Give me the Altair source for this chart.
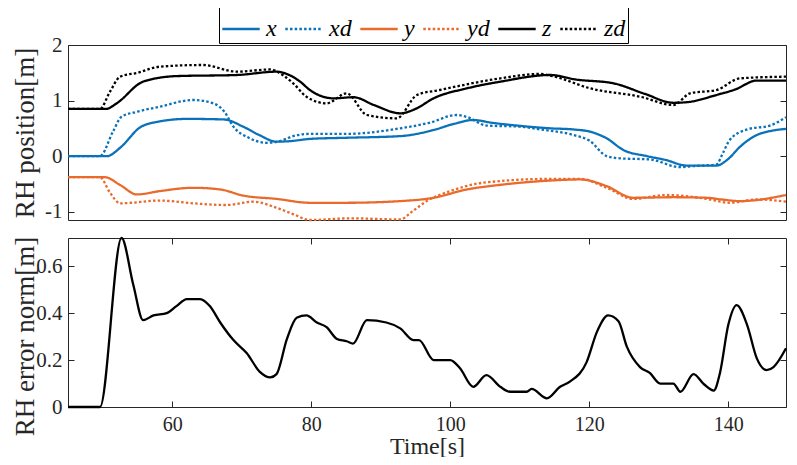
import altair as alt
import pandas as pd

# ---------------- data ----------------
series_names = ["x", "xd", "y", "yd", "z", "zd"]

x_t = [45, 50.6, 52.5, 55.4, 58, 62.1, 67.4, 70.2, 72.5, 75, 77, 79.8, 85, 92.8, 97.6,
       100.5, 103.3, 106, 109.6, 114.4, 117.7, 120.1, 122.5, 124.9, 128.3, 131, 134,
       138.3, 140, 141.7, 144.1, 146, 148.3]
x_v = [0, 0, 0.15, 0.52, 0.62, 0.67, 0.66, 0.53, 0.38, 0.26, 0.27, 0.31, 0.33, 0.36, 0.47,
       0.58, 0.65, 0.60, 0.55, 0.50, 0.48, 0.44, 0.32, 0.11, 0.0, -0.07, -0.17,
       -0.17, -0.05, 0.17, 0.38, 0.45, 0.49]

xd_t = [45, 49.6, 51.5, 52.7, 55, 58.2, 63, 65.9, 67.5, 68.8, 71, 73.6, 75.5, 77.4, 79.8,
        85, 92.8, 97, 100.9, 102.5, 105.2, 110, 113, 117.7, 120, 122.5, 124.4, 128.7,
        133.1, 135, 138.3, 139.2, 140.2, 142.7, 146, 148.3]
xd_v = [0, 0, 0.45, 0.71, 0.80, 0.89, 1.01, 0.95, 0.80, 0.53, 0.33, 0.24, 0.27, 0.36, 0.40,
        0.40, 0.50, 0.60, 0.74, 0.70, 0.55, 0.53, 0.48, 0.38, 0.28, 0.0, -0.04, -0.06,
        -0.20, -0.18, -0.15, 0.05, 0.29, 0.48, 0.55, 0.70]

y_t = [45, 50.3, 52.5, 54.9, 58.2, 63, 66.9, 70.2, 75, 79.8, 85, 92.8, 97.6, 102.4, 107,
       114.4, 118.7, 122.5, 126.3, 132.1, 136.9, 139, 141.7, 148.3]
y_v = [-0.38, -0.38, -0.52, -0.69, -0.63, -0.57, -0.60, -0.71, -0.77, -0.84, -0.84, -0.81,
       -0.75, -0.60, -0.52, -0.44, -0.42, -0.54, -0.75, -0.74, -0.75, -0.78, -0.81, -0.70]

yd_t = [45, 49.6, 51, 52.5, 58.2, 63, 67.8, 71.7, 75, 77.5, 79.8, 85.6, 92.8, 94.5, 96.6,
        100, 104.7, 114.4, 118.7, 122.5, 126.3, 131.1, 136.9, 140.2, 144.1, 148.3]
yd_v = [-0.38, -0.38, -0.65, -0.85, -0.80, -0.85, -0.88, -0.82, -0.93, -1.05, -1.15, -1.12,
        -1.14, -1.0, -0.81, -0.63, -0.48, -0.41, -0.41, -0.57, -0.77, -0.70, -0.77, -0.84,
        -0.78, -0.82]

z_t = [45, 50.5, 52, 55.8, 60.6, 69.3, 75, 77, 78.4, 79.8, 83.2, 86.1, 89, 92.8, 95, 97.6,
       102.4, 107.2, 114.4, 118, 123.5, 128, 132.1, 134, 138.3, 141, 144.1, 148.3]
z_v = [0.85, 0.85, 0.95, 1.34, 1.44, 1.46, 1.52, 1.45, 1.34, 1.19, 1.04, 1.06, 0.92, 0.77,
       0.85, 1.04, 1.22, 1.34, 1.46, 1.38, 1.31, 1.12, 0.96, 0.97, 1.10, 1.20, 1.36, 1.36]

zd_t = [45, 49.6, 51, 52.5, 55, 58.2, 64.4, 69.3, 74.1, 76, 77.4, 79.3, 82.2, 85.1, 88,
        92.3, 95.2, 98.5, 107.2, 112.9, 115, 120.1, 127.3, 132.1, 134.5, 138.3, 141.7, 148.3]
zd_v = [0.85, 0.85, 1.15, 1.43, 1.50, 1.61, 1.64, 1.52, 1.56, 1.45, 1.31, 1.07, 0.95, 1.13,
        0.74, 0.68, 1.10, 1.19, 1.40, 1.48, 1.43, 1.22, 1.07, 0.92, 1.13, 1.19, 1.40, 1.43]

err_t = [45, 49.6, 52.7, 54.4, 55.8, 57.3, 59.2, 60.6, 62.1, 64, 65.4, 66.9, 68.8, 70.7,
         72.6, 74.1, 75, 76.5, 77.9, 79.3, 80.8, 82.2, 83.7, 85.1, 86, 88, 90.8, 92.8, 94.7,
         95.5, 97.6, 100, 101.4, 103.3, 105.2, 107.2, 108.6, 111, 111.7, 113.9, 115.8,
         117.2, 119.6, 121.1, 122.7, 124.2, 125.4, 127.3, 128.7, 130.2, 132.1, 133.1, 135,
         136.5, 137.9, 138.8, 140, 141.2, 142.7, 144.1, 145.5, 146.5, 148.3]
err_v = [0, 0, 0.72, 0.52, 0.37, 0.39, 0.40, 0.43, 0.46, 0.46, 0.43, 0.36, 0.285, 0.23,
         0.15, 0.126, 0.14, 0.29, 0.38, 0.39, 0.36, 0.34, 0.29, 0.28, 0.27, 0.37, 0.36,
         0.335, 0.285, 0.285, 0.20, 0.20, 0.165, 0.086, 0.136, 0.086, 0.065, 0.065, 0.077,
         0.037, 0.086, 0.108, 0.19, 0.32, 0.39, 0.365, 0.257, 0.17, 0.145, 0.10, 0.10,
         0.065, 0.14, 0.097, 0.07, 0.145, 0.35, 0.434, 0.35, 0.207, 0.157, 0.17, 0.25]

pos_ticks = [-1, 0, 1, 2]
err_ticks = [0, 0.2, 0.4, 0.6]
time_ticks = [60, 80, 100, 120, 140]
x_domain = [45, 148.3]

colors = ["#0A72BA", "#0A72BA", "#EA6A2C", "#EA6A2C", "#000000", "#000000"]
dashes = [[1, 0], [2.5, 2.2], [1, 0], [2.5, 2.2], [1, 0], [2.5, 2.2]]

# ---------------- tables ----------------
rows = []
for name, ts, vs in [("x", x_t, x_v), ("xd", xd_t, xd_v), ("y", y_t, y_v),
                     ("yd", yd_t, yd_v), ("z", z_t, z_v), ("zd", zd_t, zd_v)]:
    for t, v in zip(ts, vs):
        rows.append({"t": t, "v": v, "s": name, "order": series_names.index(name)})
pos_df = pd.DataFrame(rows)
err_df = pd.DataFrame({"t": err_t, "e": err_v})

FONT = "Liberation Serif"
TXT = "#262626"
W, H1, H2 = 718, 175, 169
TL = 6  # inner tick length

legend = alt.Legend(
    title=None, orient="none", legendX=151, legendY=-38, direction="horizontal",
    columns=6, symbolType="stroke", symbolSize=1400, symbolStrokeWidth=2.5,
    labelFont=FONT, labelFontStyle="italic", labelFontSize=24, labelColor="#000000",
    labelOffset=5, columnPadding=3, padding=2, strokeColor="#000000",
    fillColor="#ffffff",
)

top = alt.Chart(pos_df).mark_line(strokeWidth=2.3, interpolate="monotone").encode(
    x=alt.X("t:Q", scale=alt.Scale(domain=x_domain, nice=False, zero=False), axis=None),
    y=alt.Y("v:Q", scale=alt.Scale(domain=[-1.15, 2], nice=False, zero=False),
            axis=alt.Axis(values=pos_ticks, title="RH position[m]", labelExpr="datum.value + ''",
                          grid=True, gridDash=[TL, W - 2 * TL, TL, 4000], gridColor=TXT,
                          gridOpacity=1, gridWidth=1, ticks=False, domain=False,
                          labelPadding=6, titleX=-35, titleBaseline="alphabetic")),
    color=alt.Color("s:N", scale=alt.Scale(domain=series_names, range=colors), legend=legend),
    strokeDash=alt.StrokeDash("s:N", scale=alt.Scale(domain=series_names, range=dashes), legend=legend),
    order="order:Q",
).properties(width=W, height=H1)

bottom = alt.Chart(err_df).mark_line(strokeWidth=2.3, color="#000000", interpolate="monotone").encode(
    x=alt.X("t:Q", scale=alt.Scale(domain=x_domain, nice=False, zero=False),
            axis=alt.Axis(values=time_ticks, title="Time[s]", grid=True,
                          gridDash=[TL, H2 - 2 * TL, TL, 4000], gridColor=TXT, gridOpacity=1,
                          gridWidth=1, ticks=False, domain=False, labelPadding=7,
                          labelFontSize=20, titleY=46, titleFontSize=24,
                          titleBaseline="alphabetic")),
    y=alt.Y("e:Q", scale=alt.Scale(domain=[0, 0.72], nice=False, zero=False),
            axis=alt.Axis(values=err_ticks, title="RH error norm[m]",
                          labelExpr="datum.value == 0 ? '0' : format(datum.value, '.1f')",
                          grid=True, gridDash=[TL, W - 2 * TL, TL, 4000], gridColor=TXT,
                          gridOpacity=1, gridWidth=1, ticks=False, domain=False,
                          labelPadding=6, titleX=-35, titleY=98, titleBaseline="alphabetic")),
).properties(width=W, height=H2)

chart = alt.vconcat(top, bottom, spacing=18, bounds="flush").properties(
    padding={"left": 60, "top": 37, "right": 3, "bottom": 412},
    autosize=alt.AutoSizeParams(type="none"),
    background="#ffffff",
).configure_view(
    stroke=TXT, strokeWidth=1
).configure_axis(
    labelFont=FONT, labelFontSize=21, labelColor=TXT,
    titleFont=FONT, titleFontSize=27, titleColor=TXT, titleFontWeight="normal",
)

chart.save("out.html", embed_options={"renderer": "svg", "actions": False})
